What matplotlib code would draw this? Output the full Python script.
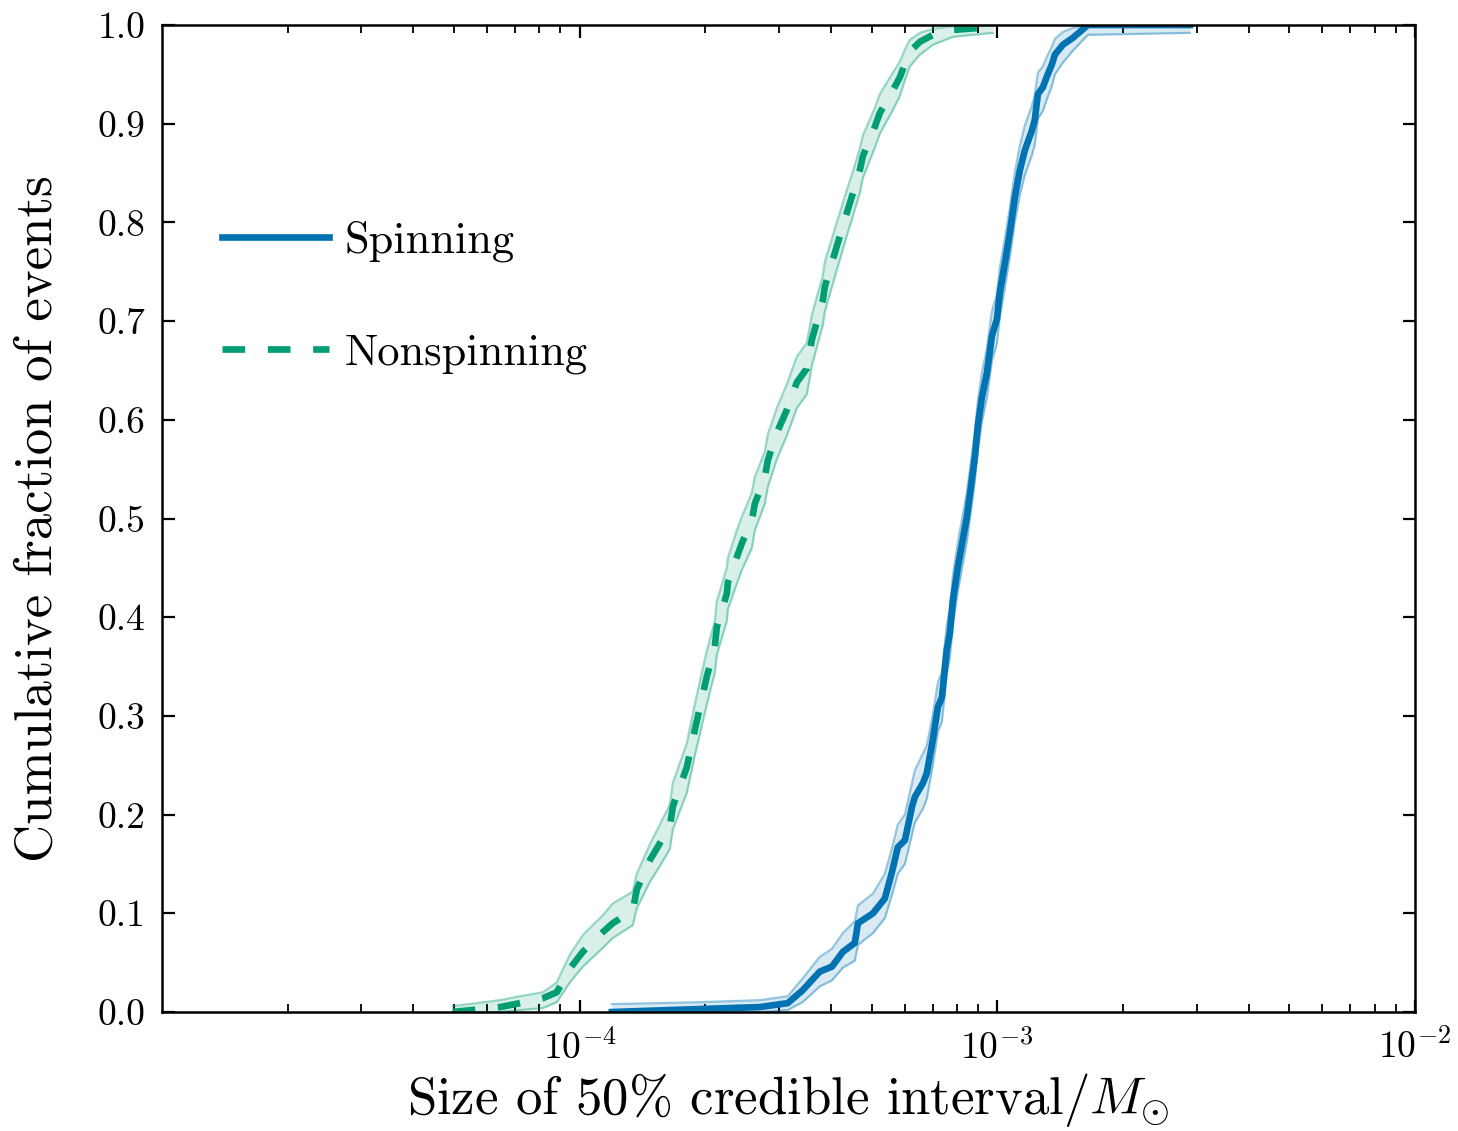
import numpy as np
import matplotlib
matplotlib.use("Agg")
import matplotlib.pyplot as plt

BLUE = "#0173b2"
GREEN = "#029e73"

# Spinning: size of 50% credible interval (Msun) vs cumulative fraction, with band
spin_x = [1.195e-4, 1.94e-4, 2.70e-4, 3.15e-4, 3.42e-4, 3.76e-4, 4.02e-4, 4.27e-4,
          4.56e-4, 4.64e-4, 5.04e-4, 5.38e-4, 5.59e-4, 5.78e-4, 6.01e-4, 6.25e-4,
          6.35e-4, 6.64e-4, 6.78e-4, 7.01e-4, 7.21e-4, 7.37e-4, 7.57e-4, 7.70e-4,
          7.83e-4, 8.04e-4, 8.46e-4, 8.69e-4, 8.84e-4, 8.99e-4, 9.19e-4, 9.44e-4,
          9.71e-4, 9.98e-4, 1.014e-3, 1.043e-3, 1.072e-3, 1.102e-3, 1.133e-3, 1.164e-3,
          1.210e-3, 1.230e-3, 1.251e-3, 1.286e-3, 1.315e-3, 1.351e-3, 1.374e-3, 1.436e-3,
          1.517e-3, 1.648e-3, 2.89e-3]
spin_y = [0.000, 0.003, 0.005, 0.009, 0.022, 0.041, 0.046, 0.061,
          0.070, 0.090, 0.100, 0.115, 0.141, 0.167, 0.174, 0.208,
          0.218, 0.232, 0.242, 0.276, 0.309, 0.319, 0.367, 0.384,
          0.417, 0.450, 0.502, 0.539, 0.563, 0.595, 0.623, 0.647,
          0.685, 0.702, 0.729, 0.759, 0.790, 0.826, 0.853, 0.873,
          0.893, 0.904, 0.930, 0.937, 0.948, 0.960, 0.970, 0.980,
          0.987, 1.000, 1.000]
spin_lo = [0.000, 0.000, 0.000, 0.002, 0.010, 0.026, 0.032, 0.045,
           0.052, 0.068, 0.080, 0.095, 0.118, 0.140, 0.150, 0.180,
           0.192, 0.206, 0.216, 0.250, 0.284, 0.294, 0.342, 0.359,
           0.392, 0.425, 0.477, 0.514, 0.538, 0.570, 0.598, 0.622,
           0.660, 0.677, 0.704, 0.734, 0.765, 0.801, 0.828, 0.848,
           0.868, 0.879, 0.905, 0.913, 0.925, 0.938, 0.950, 0.962,
           0.974, 0.990, 0.992]
spin_hi = [0.008, 0.010, 0.012, 0.016, 0.034, 0.056, 0.064, 0.080,
           0.092, 0.108, 0.120, 0.140, 0.165, 0.190, 0.200, 0.232,
           0.245, 0.262, 0.270, 0.301, 0.334, 0.344, 0.392, 0.409,
           0.442, 0.475, 0.527, 0.564, 0.588, 0.620, 0.648, 0.672,
           0.710, 0.727, 0.754, 0.784, 0.815, 0.851, 0.878, 0.898,
           0.918, 0.929, 0.952, 0.958, 0.968, 0.978, 0.986, 0.993,
           0.997, 1.000, 1.000]

# Nonspinning
nons_x = [4.97e-5, 6.45e-5, 7.20e-5, 8.17e-5, 8.82e-5, 9.48e-5, 1.018e-4, 1.137e-4,
          1.201e-4, 1.341e-4, 1.371e-4, 1.474e-4, 1.557e-4, 1.645e-4, 1.672e-4, 1.806e-4,
          1.888e-4, 2.017e-4, 2.108e-4, 2.131e-4, 2.252e-4, 2.265e-4, 2.380e-4, 2.447e-4,
          2.585e-4, 2.628e-4, 2.777e-4, 2.823e-4, 2.967e-4, 3.135e-4, 3.313e-4, 3.501e-4,
          3.598e-4, 3.823e-4, 3.866e-4, 4.130e-4, 4.388e-4, 4.486e-4, 4.688e-4, 4.767e-4,
          5.093e-4, 5.235e-4, 5.593e-4, 5.845e-4, 6.009e-4, 6.176e-4, 6.527e-4, 7.014e-4,
          7.830e-4, 9.76e-4]
nons_y = [0.000, 0.005, 0.009, 0.014, 0.020, 0.044, 0.061, 0.081,
          0.090, 0.103, 0.124, 0.154, 0.171, 0.188, 0.208, 0.248,
          0.286, 0.340, 0.370, 0.390, 0.424, 0.435, 0.461, 0.475,
          0.498, 0.515, 0.542, 0.559, 0.587, 0.610, 0.638, 0.652,
          0.681, 0.721, 0.735, 0.776, 0.813, 0.826, 0.853, 0.867,
          0.897, 0.911, 0.932, 0.947, 0.961, 0.973, 0.983, 0.990,
          0.995, 0.998]
nons_lo = [0.000, 0.000, 0.002, 0.004, 0.010, 0.030, 0.046, 0.065,
           0.075, 0.088, 0.105, 0.132, 0.148, 0.165, 0.185, 0.222,
           0.260, 0.312, 0.344, 0.362, 0.396, 0.408, 0.434, 0.448,
           0.470, 0.488, 0.515, 0.532, 0.560, 0.584, 0.612, 0.626,
           0.655, 0.696, 0.710, 0.752, 0.790, 0.803, 0.830, 0.845,
           0.876, 0.890, 0.912, 0.928, 0.944, 0.958, 0.970, 0.980,
           0.988, 0.992]
nons_hi = [0.006, 0.012, 0.016, 0.020, 0.030, 0.058, 0.078, 0.098,
           0.110, 0.122, 0.140, 0.170, 0.190, 0.210, 0.232, 0.272,
           0.312, 0.366, 0.396, 0.416, 0.450, 0.460, 0.488, 0.502,
           0.526, 0.542, 0.568, 0.585, 0.612, 0.636, 0.664, 0.678,
           0.706, 0.746, 0.760, 0.800, 0.836, 0.848, 0.875, 0.888,
           0.916, 0.930, 0.950, 0.963, 0.975, 0.985, 0.992, 0.996,
           0.999, 1.000]

y_ticks = [0.0, 0.1, 0.2, 0.3, 0.4, 0.5, 0.6, 0.7, 0.8, 0.9, 1.0]

plt.rcParams.update({
    "font.family": "serif",
    "font.serif": ["cmr10"],
    "mathtext.fontset": "cm",
    "axes.formatter.use_mathtext": True,
    "axes.unicode_minus": False,
})

fig = plt.figure(figsize=(14.58, 11.31), dpi=100)
ax = fig.add_axes([0.111, 0.1052, 0.8595, 0.8727])

for xs, ys, lo, hi, col, ls, lab in [
        (spin_x, spin_y, spin_lo, spin_hi, BLUE, "-", "Spinning"),
        (nons_x, nons_y, nons_lo, nons_hi, GREEN, (0, (3.4, 3.4)), "Nonspinning")]:
    ax.fill_between(xs, lo, hi, color=col, alpha=0.15, lw=0)
    ax.plot(xs, lo, color=col, alpha=0.4, lw=1.6)
    ax.plot(xs, hi, color=col, alpha=0.4, lw=1.6)
    ax.plot(xs, ys, color=col, lw=4.8, ls=ls, label=lab)

ax.set_xscale("log")
ax.set_xlim(1e-5, 1e-2)
ax.set_ylim(0, 1)
ax.set_yticks(y_ticks)
ax.set_yticklabels([f"{v:.1f}" for v in y_ticks])
ax.set_xticks([1e-4, 1e-3, 1e-2])
ax.tick_params(which="both", direction="in", top=True, right=True,
               labelsize=27, pad=12)
ax.tick_params(which="major", length=9, width=1.6)
ax.tick_params(which="minor", length=5.5, width=1.3)
ax.tick_params(axis="y", which="minor", left=False, right=False)
for s in ax.spines.values():
    s.set_linewidth(1.8)

ax.set_xlabel(r"Size of 50% credible interval/$M_{\odot}$", fontsize=38, labelpad=4)
ax.set_ylabel("Cumulative fraction of events", fontsize=38, labelpad=26)

leg = ax.legend(loc="upper left", bbox_to_anchor=(0.048, 0.802), frameon=False,
                fontsize=32, handlelength=2.4, handletextpad=0.35,
                labelspacing=1.6, borderaxespad=0, borderpad=0)

fig.savefig("out.png", dpi=100)
